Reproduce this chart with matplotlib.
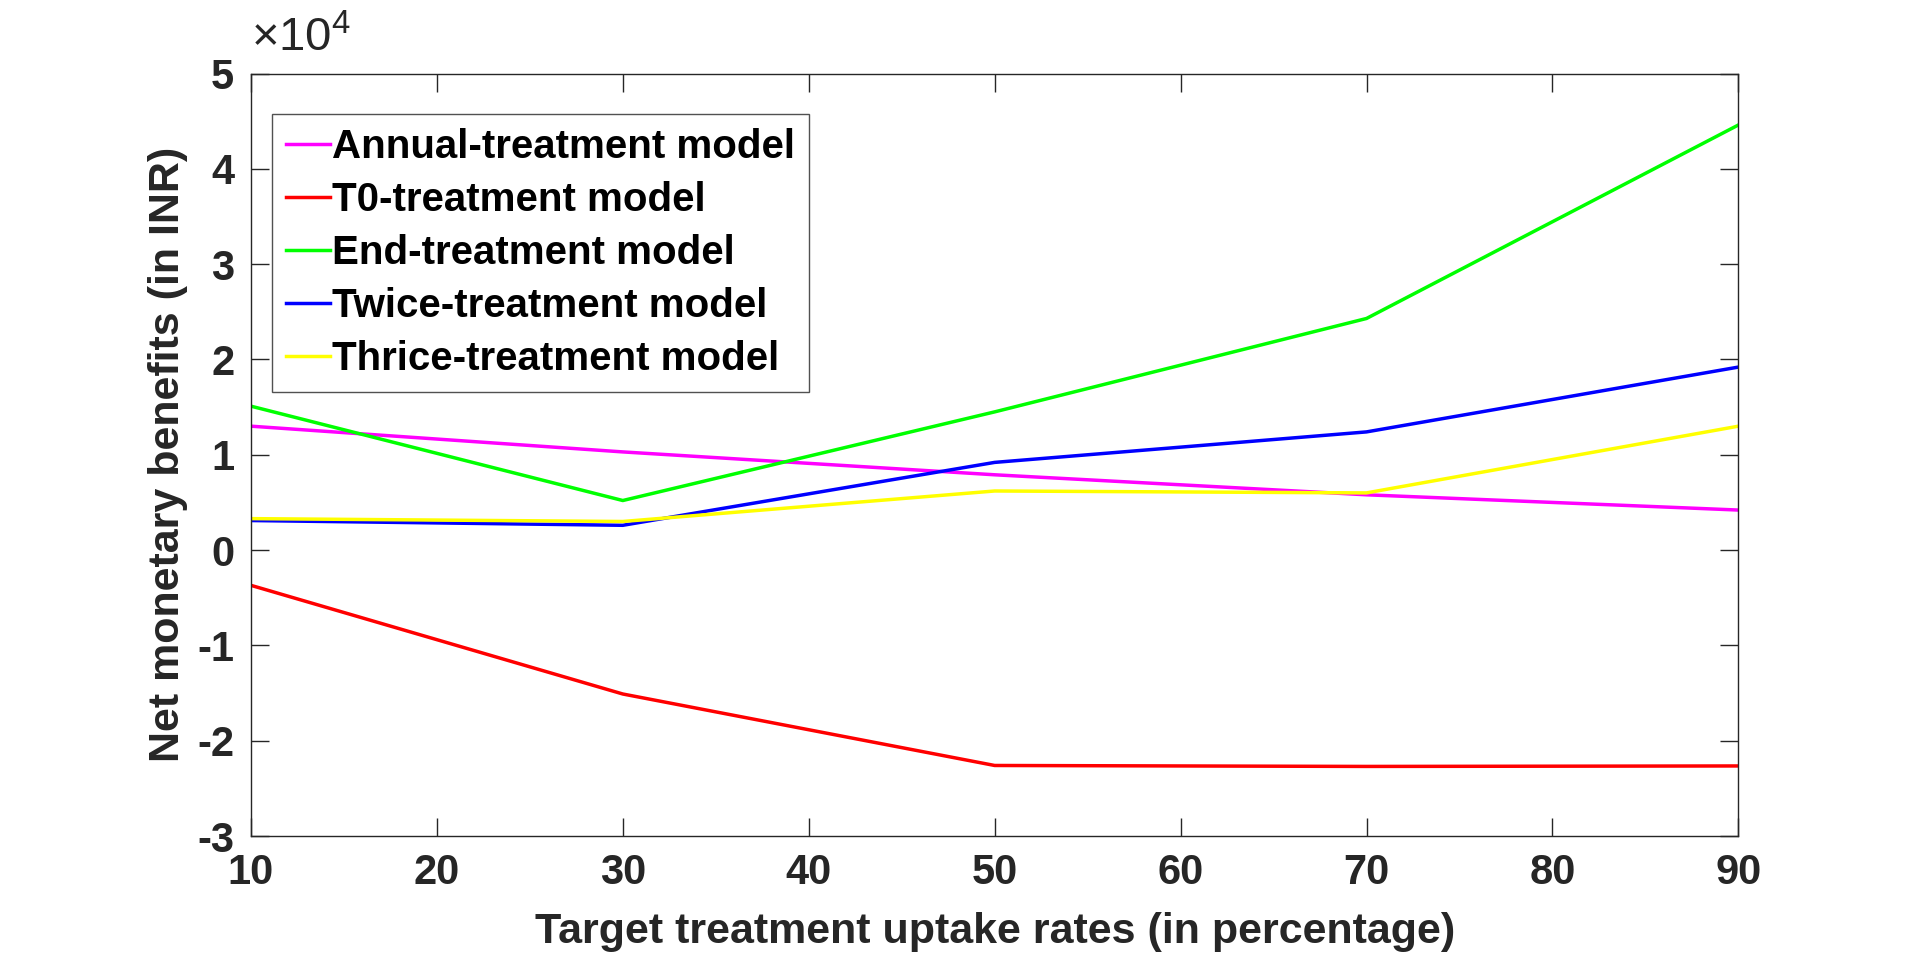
import matplotlib
matplotlib.use("Agg")
import matplotlib.pyplot as plt
from matplotlib import font_manager

# ---- data (values in INR) ----
uptake = [10, 30, 50, 70, 90]
annual = [13000, 10300, 7900, 5800, 4200]
t0 = [-3700, -15100, -22600, -22700, -22650]
end = [15100, 5200, 14500, 24300, 44600]
twice = [3100, 2600, 9200, 12400, 19200]
thrice = [3300, 3000, 6200, 6000, 13000]

labels = ["Annual-treatment model", "T0-treatment model", "End-treatment model",
          "Twice-treatment model", "Thrice-treatment model"]
colors = ["#ff00ff", "#ff0000", "#00ff00", "#0000ff", "#ffff00"]

yticks = [-30000, -20000, -10000, 0, 10000, 20000, 30000, 40000, 50000]
xticks = [10, 20, 30, 40, 50, 60, 70, 80, 90]

# condensed font if available (MATLAB-like look)
names = {f.name for f in font_manager.fontManager.ttflist}
narrow = "Liberation Sans Narrow" if "Liberation Sans Narrow" in names else "Liberation Sans"
wide = "Liberation Sans"

plt.rcParams["mathtext.fontset"] = "custom"
plt.rcParams["mathtext.rm"] = narrow
plt.rcParams["mathtext.it"] = narrow

grey = "#262626"

fig = plt.figure(figsize=(19.2, 9.55), dpi=100)
ax = fig.add_axes([0.1307, 0.1246, 0.7747, 0.7984])

for ys, lab, c in zip([annual, t0, end, twice, thrice], labels, colors):
    ax.plot(uptake, ys, color=c, lw=2.5, label=lab)

ax.set_xlim(10, 90)
ax.set_ylim(-30000, 50000)
ax.set_xticks(xticks)
ax.set_yticks(yticks)
ax.set_xticklabels([str(v) for v in xticks])
ax.set_yticklabels([f"{v / 1e4:g}" for v in yticks])

ax.tick_params(direction="in", length=13, width=1, top=True, right=True,
               colors=grey, labelsize=30, pad=12)
for t in ax.get_xticklabels() + ax.get_yticklabels():
    t.set_fontfamily(narrow)
    t.set_fontweight("bold")
for s in ax.spines.values():
    s.set_color(grey)
    s.set_linewidth(1)

ax.set_xlabel("Target treatment uptake rates (in percentage)", fontsize=31,
              fontweight="bold", family=narrow, color=grey, labelpad=14)
ax.set_ylabel("Net monetary benefits (in INR)", fontsize=31,
              fontweight="bold", family=wide, color=grey, labelpad=7)

ax.text(0.0, 1.016, r"$\times10^{4}$", transform=ax.transAxes, fontsize=34,
        color=grey, ha="left", va="bottom")

leg = ax.legend(loc="upper left", bbox_to_anchor=(0.014, 0.947), frameon=True,
                fancybox=False, edgecolor=grey, handlelength=1.1,
                handletextpad=0.05, borderpad=0.35, labelspacing=0.37,
                borderaxespad=0,
                prop={"family": narrow, "weight": "bold", "size": 29})
leg.get_frame().set_linewidth(1)
for t in leg.get_texts():
    t.set_color("black")

fig.savefig("out.png", dpi=100)
plt.close(fig)
